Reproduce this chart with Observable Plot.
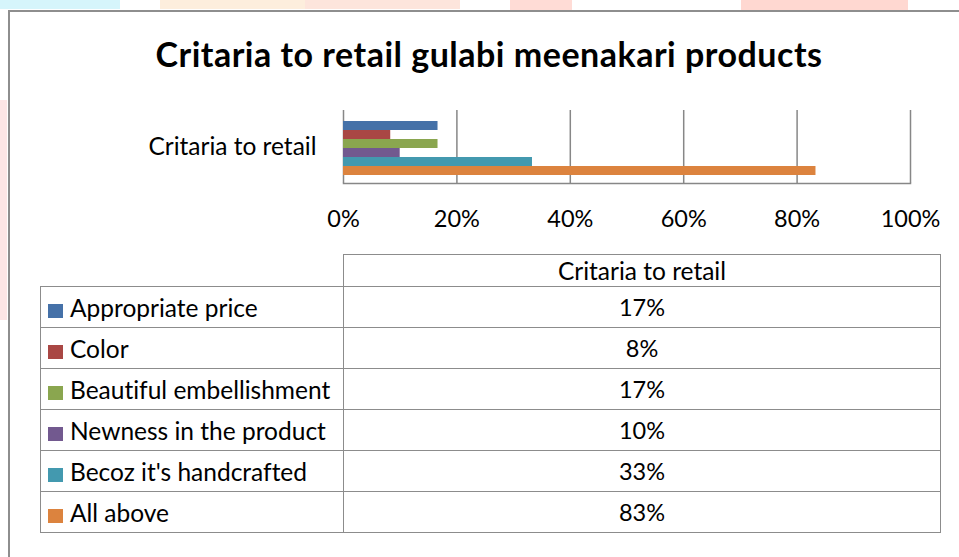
<!DOCTYPE html>
<html>
<head>
<meta charset="utf-8">
<script src="https://cdn.jsdelivr.net/npm/d3@7"></script>
<script src="https://cdn.jsdelivr.net/npm/@observablehq/plot@0.6"></script>
<style>
  html, body { margin: 0; padding: 0; background: #fff; }
  body { width: 959px; height: 557px; position: relative; overflow: hidden; font-family: Lato, "Open Sans", sans-serif; color: #000; font-variant-ligatures: none; }
  .blob { position: absolute; }
  #frame { position: absolute; left: 8px; top: 10px; width: 980px; height: 600px; border-left: 2px solid #8e8e8e; border-top: 2px solid #8e8e8e; }
  #title { position: absolute; left: 0; width: 978px; top: 34px; text-align: center; font-weight: bold; font-size: 34px; letter-spacing: 0.5px; line-height: 1.2; white-space: nowrap; }
  #chart { position: absolute; left: 0; top: 95px; }
  #chart svg text { font-variant-ligatures: none; }
  table { position: absolute; left: 40px; top: 254px; border-collapse: collapse; table-layout: fixed; font-size: 24.5px; }
  td { border: 1.5px solid #8c8c8c; padding: 0; vertical-align: middle; white-space: nowrap; }
  tr.head td { height: 31px; text-align: center; }
  tr.row td { height: 40px; }
  td.corner { border-top: none; border-left: none; }
  td.name { padding-left: 7px; }
  td.val { text-align: center; font-size: 23.5px; }
  .sw { display: inline-block; width: 15px; height: 14px; margin-right: 7px; vertical-align: -1px; }
</style>
</head>
<body>
<div class="blob" style="left:0;top:0;width:120px;height:9px;background:#d6f5fb"></div>
<div class="blob" style="left:160px;top:0;width:145px;height:9px;background:#fdeedd"></div>
<div class="blob" style="left:305px;top:0;width:155px;height:9px;background:#fde5dc"></div>
<div class="blob" style="left:510px;top:0;width:62px;height:10px;background:#ffdcd6"></div>
<div class="blob" style="left:741px;top:0;width:167px;height:10px;background:#ffd8d1"></div>
<div class="blob" style="left:0;top:100px;width:7px;height:220px;background:#fde6e6"></div>
<div id="frame"></div>
<div id="title"></div>
<div id="chart"></div>
<table id="tbl"></table>
<script>
const title = "Critaria to retail gulabi meenakari products";
const categories = ["Critaria to retail"];
const criteria = ["Appropriate price", "Color", "Beautiful embellishment", "Newness in the product", "Becoz it's handcrafted", "All above"];
const shares = [0.1667, 0.0833, 0.1667, 0.10, 0.3333, 0.8333];
const colors = ["#4571a8", "#a94744", "#8aa64f", "#72598f", "#4399af", "#dc833e"];
const xTicks = [0, 0.2, 0.4, 0.6, 0.8, 1];

const pct = d3.format(".0%");
const data = criteria.map((c, i) => ({criterion: c, share: shares[i], category: categories[0]}));

document.getElementById("title").textContent = title;

const plot = Plot.plot({
  width: 959,
  height: 150,
  marginTop: 15,
  marginBottom: 62,
  marginLeft: 343,
  marginRight: 49,
  style: {fontFamily: "Lato, 'Open Sans', sans-serif", fontSize: "23.5px", background: "transparent", color: "#000", overflow: "visible"},
  x: {domain: [0, 1], ticks: xTicks, tickFormat: pct, tickSize: 0, tickPadding: 27, label: null},
  y: {domain: criteria, padding: 0, insetTop: 8, insetBottom: 6, axis: null},
  color: {domain: criteria, range: colors},
  marks: [
    Plot.ruleX(xTicks, {stroke: "#878787", strokeWidth: 1.5}),
    Plot.barX(data, {x: "share", y: "criterion", fill: "criterion", inset: 0}),
    Plot.frame({anchor: "bottom", stroke: "#878787", strokeWidth: 1.5}),
    Plot.text(categories, {text: d => d, frameAnchor: "left", textAnchor: "end", dx: -27, fill: "#000", fontSize: 24.5})
  ]
});
document.getElementById("chart").appendChild(plot);

const tbl = d3.select("#tbl");
const cg = tbl.append("colgroup");
cg.append("col").style("width", "303px");
cg.append("col").style("width", "597px");
const head = tbl.append("tr").attr("class", "head");
head.append("td").attr("class", "corner");
head.append("td").text(categories[0]);
criteria.forEach((c, i) => {
  const tr = tbl.append("tr").attr("class", "row");
  const td = tr.append("td").attr("class", "name");
  td.append("span").attr("class", "sw").style("background", colors[i]);
  td.append("span").text(c);
  tr.append("td").attr("class", "val").text(pct(shares[i]));
});
</script>
</body>
</html>
